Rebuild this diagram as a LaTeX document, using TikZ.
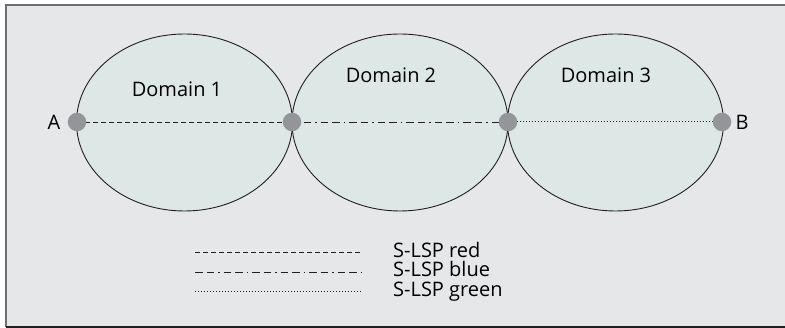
\documentclass[tikz,border=0pt]{standalone}
\usepackage{fontspec}
\setmainfont{Open Sans}
\usetikzlibrary{shapes.geometric}
\definecolor{bgc}{HTML}{E6E7E8}
\definecolor{domc}{HTML}{DDE8E6}
\definecolor{dotc}{HTML}{939598}
\definecolor{framec}{HTML}{6D6E71}
\definecolor{linec}{HTML}{231F20}
\tikzset{
  domstyle/.style={ellipse, draw=linec, line width=0.9pt, fill=domc, minimum width=216pt, minimum height=177pt, inner sep=0pt},
  nodedot/.style={circle, fill=dotc, minimum size=18.5pt, inner sep=0pt},
  lbl/.style={font=\fontsize{20}{22}\selectfont, text=black, inner sep=0pt},
  leglbl/.style={lbl, anchor=base west, text height=14pt, text depth=4.5pt},
  redlsp/.style={draw=linec, line width=0.9pt, dash pattern=on 4.5pt off 3.5pt},
  bluelsp/.style={draw=linec, line width=0.9pt, dash pattern=on 7.5pt off 4pt on 7.5pt off 4pt on 1.5pt off 4pt},
  greenlsp/.style={draw=linec, line width=1pt, dash pattern=on 1.2pt off 1.8pt},
}
\begin{document}
\begin{tikzpicture}[x=1pt,y=-1pt]
\useasboundingbox (0,0) rectangle (785,328);
\fill[bgc] (6,5) rectangle (785,327);
\draw[framec, line width=1.6pt] (6,327) -- (6,5) -- (785,5);
\draw[linec, line width=1.2pt] (6,327) -- (785,327);
% domains
\node[domstyle] (d1) at (184.5,122.5) {};
\node[domstyle] (d2) at (400,122.5) {};
\node[domstyle] (d3) at (615.5,122.5) {};
\node[lbl] (t1) at (177,89) {Domain 1};
\node[lbl] (t2) at (391,75) {Domain 2};
\node[lbl] (t3) at (606,75) {Domain 3};
% connectors
\coordinate (pa) at (77,122);
\coordinate (p1) at (292,122);
\coordinate (p2) at (508,122);
\coordinate (pb) at (722,122);
\draw[redlsp] (pa) -- (p1);
\draw[bluelsp] (p1) -- (p2);
\draw[greenlsp] (p2) -- (pb);
\node[nodedot] (na) at (pa) {};
\node[nodedot] (n1) at (p1) {};
\node[nodedot] (n2) at (p2) {};
\node[nodedot] (nb) at (pb) {};
\node[lbl] (la) at (54,122) {A};
\node[lbl] (lb) at (742,122) {B};
% legend
\coordinate (r1) at (195,252.5);
\coordinate (r2) at (362,252.5);
\coordinate (b1) at (195,272);
\coordinate (b2) at (362,272);
\coordinate (g1) at (195,292);
\coordinate (g2) at (362,292);
\draw[redlsp] (r1) -- (r2);
\draw[bluelsp] (b1) -- (b2);
\draw[greenlsp] (g1) -- (g2);
\node[leglbl] (lr) at (393,257.5) {S-LSP red};
\node[leglbl] (lbl2) at (393,277) {S-LSP blue};
\node[leglbl] (lg) at (393,296.5) {S-LSP green};
\end{tikzpicture}
\end{document}
